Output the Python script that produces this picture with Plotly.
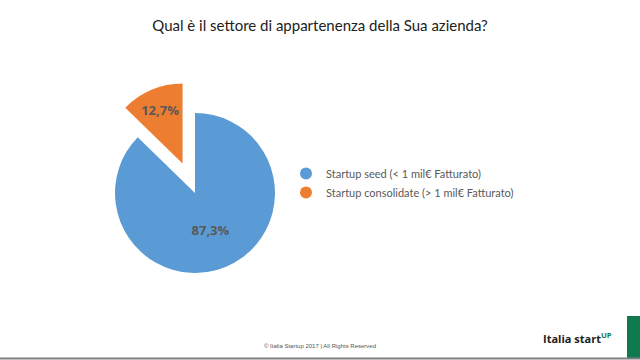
import plotly.graph_objects as go

categories = ["Startup seed (< 1 mil€ Fatturato)", "Startup consolidate (> 1 mil€ Fatturato)"]
values = [87.3, 12.7]
colors = ["#5B9BD5", "#ED7D31"]
pulls = [0, 0.4]

W, H = 640, 360
cx, cy, r = 195, 193, 80
ext = r * (1 + max(pulls))

fig = go.Figure()
fig.add_trace(go.Pie(
    labels=categories, values=values, sort=False, direction="clockwise", rotation=0,
    pull=pulls, marker=dict(colors=colors, line=dict(width=0)),
    texttemplate="%{percent:.1%}", textposition="inside",
    insidetextfont=dict(family="Open Sans", size=13, color="#595959", weight="bold"),
    showlegend=False, hoverinfo="label+percent",
    domain=dict(x=[(cx - ext) / W, (cx + ext) / W], y=[1 - (cy + ext) / H, 1 - (cy - ext) / H]),
))
for name, col in zip(categories, colors):
    fig.add_trace(go.Scatter(x=[None], y=[None], mode="markers", name=name,
                             marker=dict(symbol="circle", size=13, color=col)))

fig.update_layout(
    width=W, height=H, margin=dict(l=0, r=0, t=0, b=0),
    paper_bgcolor="white", plot_bgcolor="white", separators=",.",
    xaxis=dict(visible=False), yaxis=dict(visible=False),
    title=dict(text="Qual è il settore di appartenenza della Sua azienda?",
               x=0.5, xanchor="center", y=1 - 26 / H, yanchor="middle",
               font=dict(family="Lato", size=15, color="#222222")),
    legend=dict(x=286 / W, y=1 - 159 / H, xanchor="left", yanchor="top",
                font=dict(family="Lato", size=11, color="#595959"),
                bgcolor="rgba(0,0,0,0)", itemsizing="constant", tracegroupgap=0),
    shapes=[
        dict(type="rect", xref="paper", yref="paper", x0=627 / W, x1=1, y0=1 - 358 / H, y1=1 - 316 / H,
             fillcolor="#0F7A4F", line=dict(width=0)),
        dict(type="line", xref="paper", yref="paper", x0=0, x1=1, y0=1 - 358.5 / H, y1=1 - 358.5 / H,
             line=dict(color="#808080", width=2)),
    ],
    annotations=[
        dict(text="© Italia Startup 2017 | All Rights Reserved", x=320 / W, y=1 - 346 / H,
             xref="paper", yref="paper", showarrow=False, xanchor="center", yanchor="middle",
             font=dict(family="Liberation Sans", size=6, color="#555555")),
        dict(text="<b>Italia start</b><b><span style='color:#0F7A4F'><sup>UP</sup></span></b>",
             x=614 / W, y=1 - 338 / H, xref="paper", yref="paper", showarrow=False,
             xanchor="right", yanchor="middle",
             font=dict(family="Open Sans", size=11, color="#222222")),
    ],
)
fig.write_html("out.html", config={"displayModeBar": False},
               post_script="document.body.style.margin='0';document.body.style.overflow='hidden';")
